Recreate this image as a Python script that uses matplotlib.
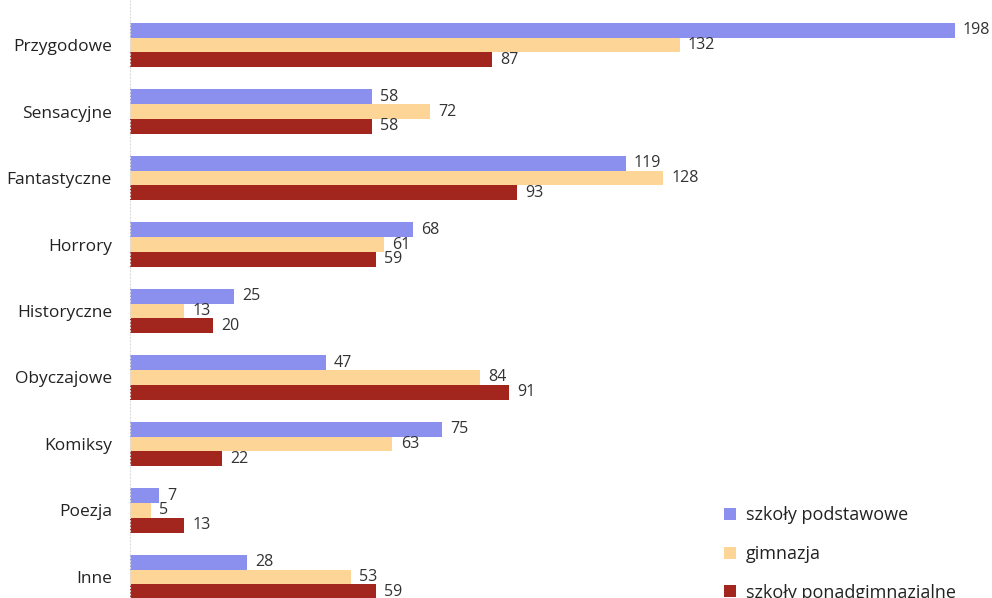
import numpy as np
import matplotlib.pyplot as plt
from matplotlib.patches import Patch

# Dane
kategorie = ["Przygodowe", "Sensacyjne", "Fantastyczne", "Horrory", "Historyczne",
             "Obyczajowe", "Komiksy", "Poezja", "Inne"]
podstawowe = [198, 58, 119, 68, 25, 47, 75, 7, 28]
gimnazja = [132, 72, 128, 61, 13, 84, 63, 5, 53]
ponadgimn = [87, 58, 93, 59, 20, 91, 22, 13, 59]
serie = ["szkoły podstawowe", "gimnazja", "szkoły ponadgimnazjalne"]
kolory = ["#8b90ee", "#fdd597", "#a2251e"]

plt.rcParams['font.family'] = ['Open Sans', 'DejaVu Sans']

fig = plt.figure(figsize=(9.92, 5.98), dpi=100)
ax = fig.add_axes([130 / 992, 0, 1 - 130 / 992, 1])

y = np.arange(len(kategorie))
h = 0.225
for k, (vals, kol) in enumerate(zip([podstawowe, gimnazja, ponadgimn], kolory)):
    pos = y + (k - 1) * h
    ax.barh(pos, vals, height=h, color=kol, edgecolor="none")
    for p, v in zip(pos, vals):
        ax.annotate(str(v), (v, p), xytext=(6, 0), textcoords="offset points",
                    va="center", ha="left", fontsize=11.5, color="#333333")

ax.set_xlim(0, 207)
ax.set_ylim(8.316, -0.677)
ax.set_yticks(y)
ax.set_yticklabels(kategorie, fontsize=12.5, color="#222222")
ax.tick_params(axis="y", length=0, pad=13)
ax.set_xticks([])
for s in ["top", "right", "bottom"]:
    ax.spines[s].set_visible(False)
ax.spines["left"].set_color("#dddddd")
ax.spines["left"].set_linestyle((0, (1, 2)))

uchwyty = [Patch(facecolor=c, edgecolor="none") for c in kolory]
fig.legend(uchwyty, serie, loc="lower left", bbox_to_anchor=(708 / 992, -20 / 598),
           frameon=False, fontsize=13, labelspacing=1.15, handlelength=0.65,
           handleheight=0.65, handletextpad=0.55, labelcolor="#222222")

fig.savefig("out.png", dpi=100)
